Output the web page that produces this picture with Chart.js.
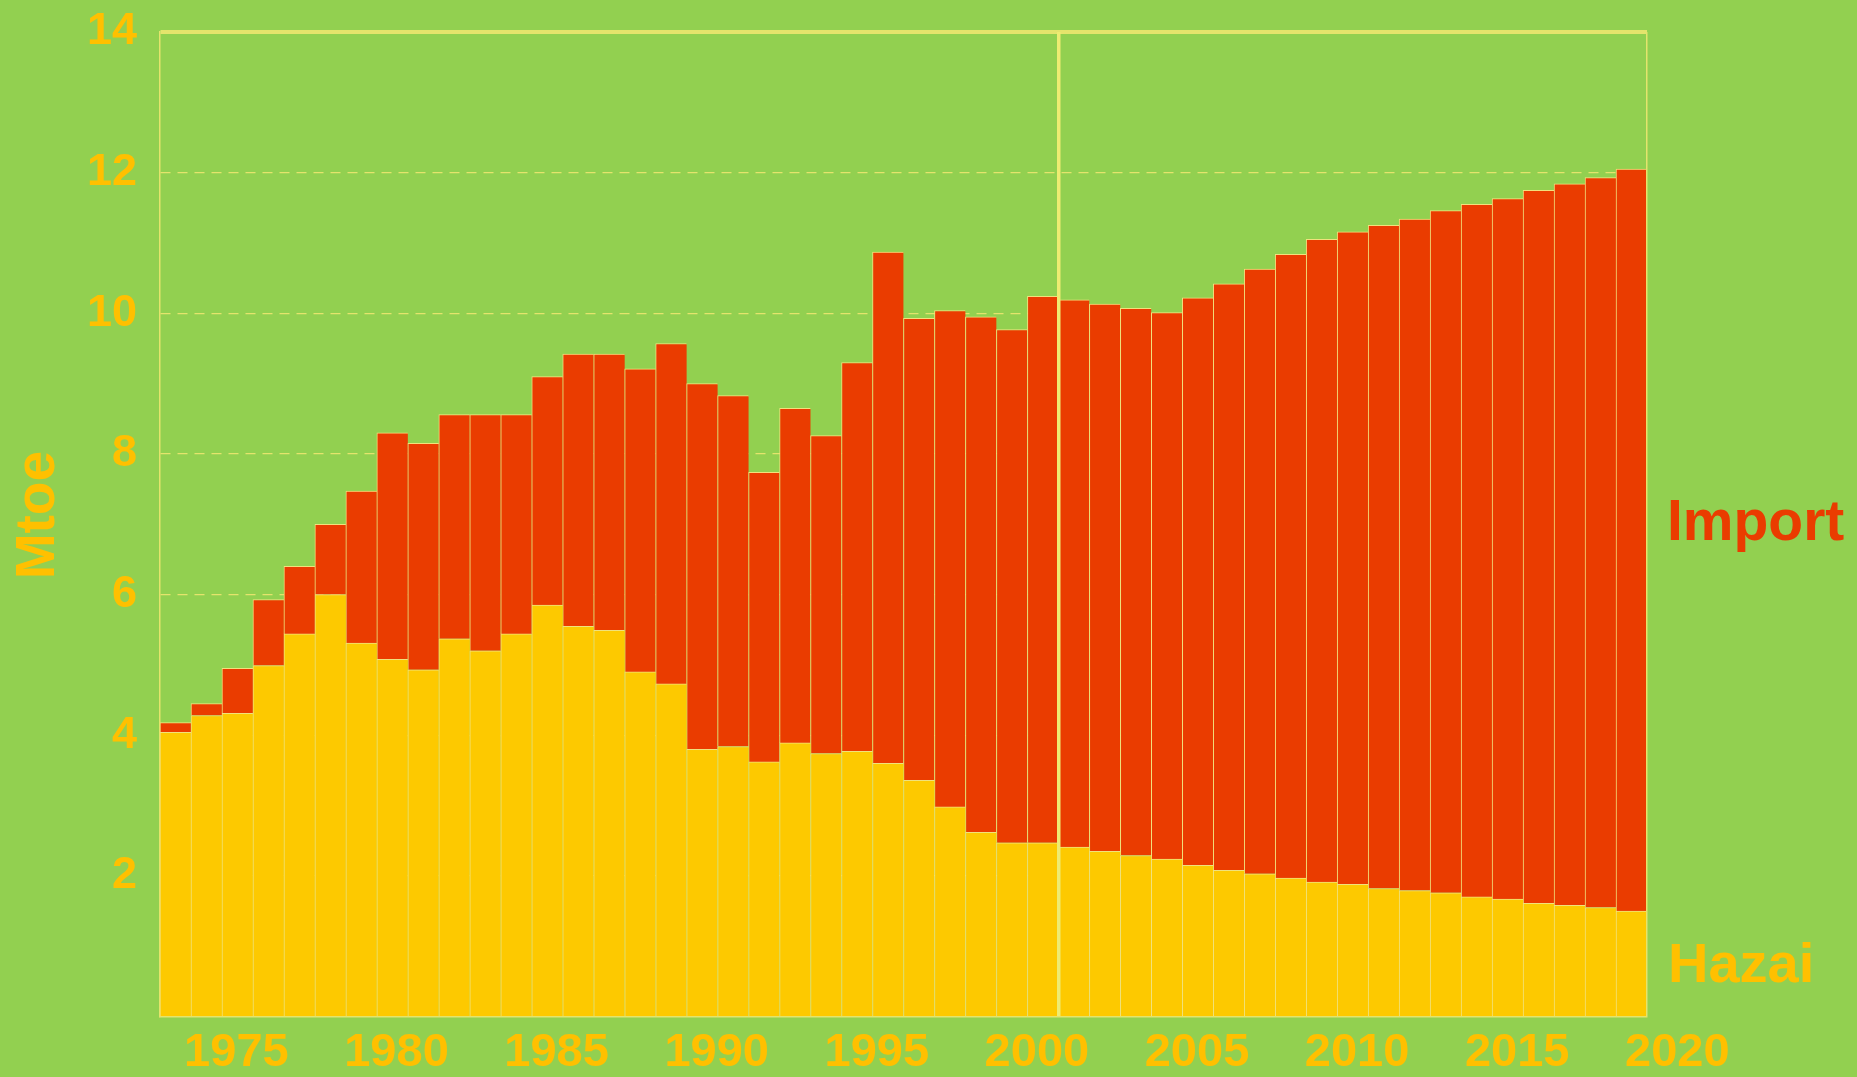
<!DOCTYPE html>
<html>
<head>
<meta charset="utf-8">
<title>Mtoe – Hazai / Import</title>
<script src="https://cdn.jsdelivr.net/npm/chart.js@4.4.1/dist/chart.umd.min.js"></script>
<style>
  html, body { margin: 0; padding: 0; background: #92D050; }
  #wrap { width: 1857px; height: 1077px; position: relative; }
</style>
</head>
<body>
<div id="wrap"><canvas id="energyChart"></canvas></div>
<script>
// Years (one bar per year), history up to 2000, forecast after
const years = [
  1972, 1973, 1974, 1975, 1976, 1977, 1978, 1979, 1980, 1981,
  1982, 1983, 1984, 1985, 1986, 1987, 1988, 1989, 1990, 1991,
  1992, 1993, 1994, 1995, 1996, 1997, 1998, 1999, 2000, 2001,
  2002, 2003, 2004, 2005, 2006, 2007, 2008, 2009, 2010, 2011,
  2012, 2013, 2014, 2015, 2016, 2017, 2018, 2019
];

// Domestic production (Mtoe)
const hazai = [
  4.04, 4.28, 4.31, 4.99, 5.44, 6.00, 5.31, 5.08, 4.93, 5.37,
  5.20, 5.44, 5.85, 5.55, 5.49, 4.90, 4.73, 3.80, 3.84, 3.62,
  3.89, 3.74, 3.77, 3.60, 3.36, 2.98, 2.62, 2.47, 2.47, 2.41,
  2.35, 2.29, 2.24, 2.15, 2.08, 2.03, 1.97, 1.91, 1.88, 1.82,
  1.79, 1.76, 1.70, 1.67, 1.61, 1.58, 1.55, 1.50
];

// Imports (Mtoe)
const importVals = [
  0.14, 0.17, 0.64, 0.94, 0.96, 1.00, 2.16, 3.22, 3.22, 3.19,
  3.36, 3.12, 3.25, 3.87, 3.93, 4.31, 4.84, 5.20, 4.99, 4.12,
  4.76, 4.52, 5.53, 7.27, 6.57, 7.06, 7.33, 7.30, 7.77, 7.78,
  7.78, 7.78, 7.77, 8.07, 8.34, 8.60, 8.87, 9.14, 9.28, 9.43,
  9.55, 9.70, 9.85, 9.96, 10.14, 10.26, 10.38, 10.55
];

// Year labels printed under the chart
const tickYears = [1975, 1980, 1985, 1990, 1995, 2000, 2005, 2010, 2015, 2020];
const forecastStartIndex = 29;   // first bar after the 2000 separator

const gold = "#FFC000";
const hazaiColor = "#FDC900";
const importColor = "#EA3C00";
const lineColor = "#E4E46C";
const barEdge = "#F1E27C";
const fontFamily = "'Liberation Sans', Arial, sans-serif";

// Axis unit and series names, written beside the plot
const sideLabels = {
  id: "sideLabels",
  afterDraw(chart) {
    const { ctx, chartArea, scales } = chart;
    ctx.save();
    ctx.textBaseline = "middle";

    // rotated unit title on the left
    ctx.save();
    ctx.translate(39, scales.y.getPixelForValue(7.13));
    ctx.rotate(-Math.PI / 2);
    ctx.textAlign = "center";
    ctx.font = "bold 55px " + fontFamily;
    ctx.fillStyle = gold;
    ctx.fillText("Mtoe", 0, 0);
    ctx.restore();

    ctx.textAlign = "left";
    ctx.font = "bold 57px " + fontFamily;
    ctx.fillStyle = importColor;
    ctx.fillText("Import", chartArea.right + 20, scales.y.getPixelForValue(7.0));
    ctx.font = "bold 56px " + fontFamily;
    ctx.fillStyle = gold;
    ctx.fillText("Hazai", chartArea.right + 21, scales.y.getPixelForValue(0.71));
    ctx.restore();
  }
};

const ctx = document.getElementById("energyChart").getContext("2d");
new Chart(ctx, {
  type: "bar",
  data: {
    labels: years,
    datasets: [
      {
        label: "Hazai",
        data: hazai,
        backgroundColor: hazaiColor,
        borderColor: barEdge,
        borderWidth: { left: 1, top: 1, right: 0, bottom: 0 },
        borderSkipped: false,
        barPercentage: 1,
        categoryPercentage: 1
      },
      {
        label: "Import",
        data: importVals,
        backgroundColor: importColor,
        borderColor: barEdge,
        borderWidth: { left: 1, top: 1, right: 0, bottom: 0 },
        borderSkipped: false,
        barPercentage: 1,
        categoryPercentage: 1
      }
    ]
  },
  options: {
    responsive: true,
    maintainAspectRatio: false,
    animation: false,
    layout: { padding: { top: 32, right: 210, bottom: 0, left: 0 } },
    plugins: {
      legend: { display: false },
      tooltip: { enabled: false }
    },
    scales: {
      x: {
        stacked: true,
        ticks: { display: false },
        afterFit: scale => { scale.height = 0; },
        grid: {
          z: 1,
          drawTicks: false,
          offset: true,
          color: c => c.index === forecastStartIndex ? "#EEEC72" : (c.type === "scale" ? lineColor : "transparent"),
          lineWidth: c => c.index === forecastStartIndex ? 3.5 : 1.5
        },
        // drawn after the grid so the border sits at the bottom edge, over the bars
        border: { display: true, color: lineColor, width: 1.5, z: 1 }
      },
      xYears: {
        type: "linear",
        axis: "x",
        position: "bottom",
        offset: false,
        bounds: "data",
        min: 1972.614,
        max: 2019.054,
        afterBuildTicks: axis => { axis.ticks = tickYears.map(v => ({ value: v })); },
        afterFit: scale => {
          scale.height = 60.5;
          scale.paddingLeft = 0;
          scale.paddingRight = 0;
        },
        grid: { display: false, drawTicks: false, offset: false },
        border: { display: false },
        ticks: {
          color: gold,
          padding: 13.5,
          maxRotation: 0,
          autoSkip: false,
          font: { family: fontFamily, size: 47, weight: "bold", lineHeight: 1.0 },
          callback: v => String(v)
        }
      },
      y: {
        stacked: true,
        min: 0,
        max: 14,
        afterFit: scale => {
          scale.width = 160;
          scale.paddingTop = 0;
          scale.paddingBottom = 0;
        },
        ticks: {
          stepSize: 2,
          color: gold,
          padding: 23,
          font: { family: fontFamily, size: 45, weight: "bold" },
          callback: v => v === 0 ? null : v
        },
        grid: {
          drawTicks: false,
          color: lineColor,
          lineWidth: c => (c.tick && c.tick.value === 14) ? 4 : 1.3
        },
        border: {
          display: true,
          color: lineColor,
          width: 1.5,
          dash: c => (c.tick && c.tick.value === 14) ? [] : [10, 7]
        }
      }
    }
  },
  plugins: [sideLabels]
});
</script>
</body>
</html>
